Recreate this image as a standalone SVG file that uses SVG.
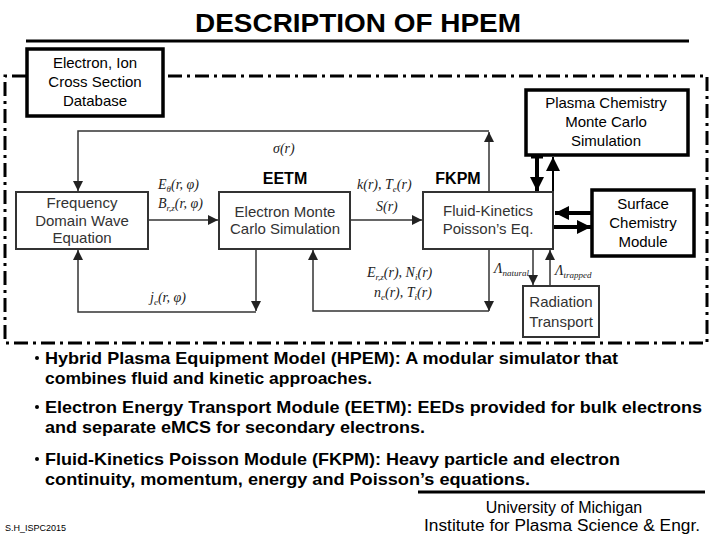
<svg xmlns="http://www.w3.org/2000/svg" width="720" height="540" viewBox="0 0 720 540">
<defs>
<style>
.sans{font-family:"Liberation Sans",Arial,sans-serif}
.title{font-family:"Liberation Sans",Arial,sans-serif;font-weight:bold;font-size:25px;fill:#000}
.boxtxt{font-family:"Liberation Sans",Arial,sans-serif;font-size:15px;fill:#000;text-anchor:middle}
.intxt{font-family:"Liberation Sans",Arial,sans-serif;font-size:15px;fill:#333;text-anchor:middle}
.lbl{font-family:"Liberation Sans",Arial,sans-serif;font-weight:bold;font-size:16px;fill:#000;text-anchor:middle}
.math{font-family:"Liberation Serif","Times New Roman",serif;font-style:italic;font-size:14px;fill:#222}
.sub{font-size:9px}
.bul{font-family:"Liberation Sans",Arial,sans-serif;font-weight:bold;font-size:17px;fill:#000}
.thick{fill:#fff;stroke:#000;stroke-width:3.5}
.thin{fill:#fff;stroke:#333;stroke-width:2}
.conn{fill:none;stroke:#333;stroke-width:1.5}
.conn2{fill:none;stroke:#000;stroke-width:4}
.border{fill:none;stroke:#000;stroke-width:3;stroke-dasharray:14 5 3 5}
</style>
<marker id="ah" viewBox="0 0 10 10" refX="10" refY="5" markerWidth="10" markerHeight="10" markerUnits="userSpaceOnUse" orient="auto">
<path d="M0,0 L10,5 L0,10 z" fill="#222"/>
</marker>
<marker id="ahb" viewBox="0 0 10 10" refX="10" refY="5" markerWidth="14" markerHeight="14" markerUnits="userSpaceOnUse" orient="auto">
<path d="M0,0 L10,5 L0,10 z" fill="#000"/>
</marker>
</defs>
<rect width="720" height="540" fill="#fff"/>

<text class="title" x="195" y="32" textLength="326" lengthAdjust="spacingAndGlyphs">DESCRIPTION OF HPEM</text>
<line x1="26" y1="41" x2="689" y2="41" stroke="#000" stroke-width="3"/>

<g id="border">
<path class="border" d="M26,76 L5,76 L5,343 L707,343 L707,76 L164,76"/>
</g>

<g id="connectors">
<path class="conn" d="M489,192 L489,132" marker-end="url(#ah)"/>
<path class="conn" d="M489,131 L78,131 L78,191" marker-end="url(#ah)"/>
<path class="conn" d="M148,220 L218,220" marker-end="url(#ah)"/>
<path class="conn" d="M256,249 L256,311" marker-end="url(#ah)"/>
<path class="conn" d="M256,312 L78,312 L78,250" marker-end="url(#ah)"/>
<path class="conn" d="M350,220 L422,220" marker-end="url(#ah)"/>
<path class="conn" d="M489,249 L489,311" marker-end="url(#ah)"/>
<path class="conn" d="M489,311 L313,311 L313,250" marker-end="url(#ah)"/>
<path class="conn" d="M533,249 L533,285" marker-end="url(#ah)"/>
<path class="conn" d="M550,286 L550,250" marker-end="url(#ah)"/>
<path class="conn2" d="M537,155 L537,191" marker-end="url(#ahb)"/>
<line x1="531" y1="157" x2="543" y2="157" stroke="#000" stroke-width="3"/>
<path fill="none" stroke="#000" stroke-width="2" d="M553,192 L553,157" marker-end="url(#ahb)"/>
<path class="conn2" d="M592,213 L555,213" marker-end="url(#ahb)"/>
<path class="conn2" d="M553,227 L591,227" marker-end="url(#ahb)"/>
</g>

<g id="database">
<rect class="thick" x="27" y="49" width="136" height="67"/>
<text class="boxtxt" x="95" y="68">Electron, Ion</text>
<text class="boxtxt" x="95" y="87">Cross Section</text>
<text class="boxtxt" x="95" y="106">Database</text>
</g>

<g id="plasmachem">
<rect class="thick" x="526" y="90" width="162" height="65"/>
<text class="boxtxt" x="606" y="108">Plasma Chemistry</text>
<text class="boxtxt" x="606" y="127">Monte Carlo</text>
<text class="boxtxt" x="606" y="146">Simulation</text>
</g>

<g id="fdwe">
<rect class="thin" x="16" y="192" width="132" height="57"/>
<text class="intxt" x="82" y="208">Frequency</text>
<text class="intxt" x="82" y="226">Domain Wave</text>
<text class="intxt" x="82" y="243">Equation</text>
</g>

<g id="emcs">
<rect class="thin" x="219" y="192" width="131" height="57"/>
<text class="intxt" x="285" y="217">Electron Monte</text>
<text class="intxt" x="285" y="234">Carlo Simulation</text>
</g>

<g id="fkpm">
<rect class="thin" x="423" y="192" width="130" height="57"/>
<text class="intxt" x="488" y="216">Fluid-Kinetics</text>
<text class="intxt" x="488" y="234">Poisson’s Eq.</text>
</g>

<g id="surface">
<rect class="thick" x="592" y="190" width="102" height="66"/>
<text class="boxtxt" x="643" y="209">Surface</text>
<text class="boxtxt" x="643" y="228">Chemistry</text>
<text class="boxtxt" x="643" y="247">Module</text>
</g>

<g id="radiation">
<rect class="thin" x="523" y="286" width="76" height="51"/>
<text class="intxt" x="561" y="307">Radiation</text>
<text class="intxt" x="561" y="327">Transport</text>
</g>

<g id="labels">
<text class="lbl" x="285" y="184">EETM</text>
<text class="lbl" x="458" y="184">FKPM</text>
<text class="math" x="273" y="153">σ(r)</text>
<text class="math" x="158" y="189">E<tspan class="sub" dy="3">θ</tspan><tspan dy="-3">(r, φ)</tspan></text>
<text class="math" x="158" y="208">B<tspan class="sub" dy="3">r,z</tspan><tspan dy="-3">(r, φ)</tspan></text>
<text class="math" x="357" y="189">k(r), T<tspan class="sub" dy="3">e</tspan><tspan dy="-3">(r)</tspan></text>
<text class="math" x="376" y="211">S(r)</text>
<text class="math" x="367" y="277">E<tspan class="sub" dy="3">r,z</tspan><tspan dy="-3">(r), N</tspan><tspan class="sub" dy="3">i</tspan><tspan dy="-3">(r)</tspan></text>
<text class="math" x="374" y="297">n<tspan class="sub" dy="3">e</tspan><tspan dy="-3">(r), T</tspan><tspan class="sub" dy="3">i</tspan><tspan dy="-3">(r)</tspan></text>
<text class="math" x="150" y="302">j<tspan class="sub" dy="3">e</tspan><tspan dy="-3">(r, φ)</tspan></text>
<text class="math" x="494" y="273">Λ<tspan class="sub" dy="3">natural</tspan></text>
<text class="math" x="555" y="275">Λ<tspan class="sub" dy="3">trapped</tspan></text>
</g>

<g id="bullets">
<circle cx="37" cy="358" r="2" fill="#000"/>
<text class="bul" x="45" y="364" textLength="573" lengthAdjust="spacingAndGlyphs">Hybrid Plasma Equipment Model (HPEM): A modular simulator that</text>
<text class="bul" x="45" y="384" textLength="327" lengthAdjust="spacingAndGlyphs">combines fluid and kinetic approaches.</text>
<circle cx="37" cy="407" r="2" fill="#000"/>
<text class="bul" x="45" y="413" textLength="657" lengthAdjust="spacingAndGlyphs">Electron Energy Transport Module (EETM): EEDs provided for bulk electrons</text>
<text class="bul" x="45" y="433" textLength="380" lengthAdjust="spacingAndGlyphs">and separate eMCS for secondary electrons.</text>
<circle cx="37" cy="459" r="2" fill="#000"/>
<text class="bul" x="45" y="465" textLength="575" lengthAdjust="spacingAndGlyphs">Fluid-Kinetics Poisson Module (FKPM): Heavy particle and electron</text>
<text class="bul" x="45" y="485" textLength="485" lengthAdjust="spacingAndGlyphs">continuity,  momentum, energy and Poisson’s equations.</text>
<line x1="418" y1="492" x2="705" y2="492" stroke="#000" stroke-width="3"/>
</g>

<g id="footer">
<text class="sans" x="564" y="513" font-size="16" text-anchor="middle">University of Michigan</text>
<text class="sans" x="562" y="531" font-size="16" text-anchor="middle" textLength="276" lengthAdjust="spacingAndGlyphs">Institute for Plasma Science &amp; Engr.</text>
<text class="sans" x="5" y="531" font-size="9">S.H_ISPC2015</text>
</g>
</svg>
